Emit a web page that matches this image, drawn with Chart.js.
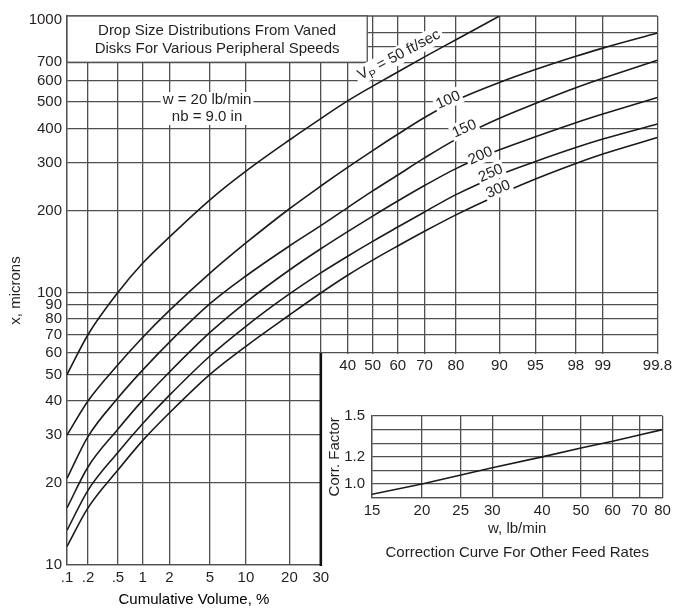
<!DOCTYPE html>
<html>
<head>
<meta charset="utf-8">
<script src="https://cdn.jsdelivr.net/npm/chart.js@4/dist/chart.umd.min.js"></script>
<style>
  html, body { margin: 0; padding: 0; background: #fff; }
  #wrap { position: relative; width: 676px; height: 609px; overflow: hidden; }
  #main { position: absolute; left: 0; top: 0; }
  #inset { position: absolute; left: 322px; top: 400px; }
</style>
</head>
<body>
<div id="wrap">
  <canvas id="main" width="676" height="609"></canvas>
  <canvas id="inset" width="354" height="165"></canvas>
</div>
<script>
// cumulative volume, % (probability axis)
const pct = [0.1, 0.2, 0.5, 1, 2, 5, 10, 20, 30, 40, 50, 60, 70, 80, 90, 95, 98, 99, 99.8];
const pctLabels = ['.1', '.2', '.5', '1', '2', '5', '10', '20', '30', '40', '50', '60', '70', '80', '90', '95', '98', '99', '99.8'];

// drop size x, microns, read at each pct value (one list per peripheral speed)
const vp50  = [50, 70, 100, 128, 160, 219, 279, 363, 435, 505, 572, 645, 733, 847, 1035];
const vp100 = [30, 40, 54.3, 68.4, 86, 117.8, 152, 203, 246, 288, 332, 381, 439, 507, 590, 658, 736, 789, 896];
const vp150 = [20.8, 29.6, 41.0, 51.9, 65.8, 91.0, 115, 148.2, 176, 205, 236, 270, 312, 365, 436, 494, 564, 611, 712];
const vp200 = [16.2, 22.9, 31.5, 40.2, 51.1, 71.4, 92.1, 121, 144.8, 167.4, 190.8, 216.7, 247, 285, 334, 373, 420, 452, 520];
const vp250 = [13.4, 18.8, 25.9, 33.0, 42.0, 58.5, 75.2, 98.8, 118.1, 135.9, 154.1, 173.9, 197.6, 228.7, 270.2, 302.5, 340.4, 365.7, 415.4];
const vp300 = [11.7, 16.2, 22.3, 28.6, 36.2, 50.1, 63.5, 82.7, 99.6, 115.7, 131.5, 148.2, 167.8, 192.8, 229, 260.8, 297.5, 322.3, 370.5];

const micronTicks  = [10, 20, 30, 40, 50, 60, 70, 80, 90, 100, 200, 300, 400, 500, 600, 700, 800, 900, 1000];
const micronLabels = ['10', '20', '30', '40', '50', '60', '70', '80', '90', '100', '200', '300', '400', '500', '600', '700', '', '', '1000'];

// inset: correction factor vs feed rate
const feedRate   = [15, 20, 30, 40, 50, 60, 70, 80];
const corrFactor = [0.925, 1.0, 1.12, 1.2, 1.265, 1.315, 1.36, 1.4];
const feedTicks  = [15, 20, 25, 30, 40, 50, 60, 70, 80];
const corrTicks  = [0.9, 1.0, 1.1, 1.2, 1.3, 1.4, 1.5];
const corrLabels = ['', '1.0', '', '1.2', '', '', '1.5'];

// curve annotations, in data units (pct, microns)
const curveTags = [['100', 77.6, 512], ['150', 82.2, 402], ['200', 86.1, 320], ['250', 88.3, 276], ['300', 89.7, 241]];

const textColor = '#231f20';
const gridColor = '#4f4f4f';
const gridWidth = 1.3;
const curveColor = '#1b1b1b';
const FONT = "'Liberation Sans', Arial, sans-serif";

Chart.defaults.font.family = FONT;
Chart.defaults.font.size = 15;
Chart.defaults.color = textColor;

// inverse normal cdf (Acklam)
function probit(p) {
  const a = [-39.69683028665376, 220.9460984245205, -275.9285104469687, 138.3577518672690, -30.66479806614716, 2.506628277459239];
  const b = [-54.47609879822406, 161.5858368580409, -155.6989798598866, 66.80131188771972, -13.28068155288572];
  const c = [-0.007784894002430293, -0.3223964580411365, -2.400758277161838, -2.549732539343734, 4.374664141464968, 2.938163982698783];
  const d = [0.007784695709041462, 0.3224671290700398, 2.445134137142996, 3.754408661907416];
  const pl = 0.02425;
  if (p < pl) {
    const q = Math.sqrt(-2 * Math.log(p));
    return (((((c[0]*q+c[1])*q+c[2])*q+c[3])*q+c[4])*q+c[5]) / ((((d[0]*q+d[1])*q+d[2])*q+d[3])*q+1);
  }
  if (p > 1 - pl) {
    const q = Math.sqrt(-2 * Math.log(1 - p));
    return -(((((c[0]*q+c[1])*q+c[2])*q+c[3])*q+c[4])*q+c[5]) / ((((d[0]*q+d[1])*q+d[2])*q+d[3])*q+1);
  }
  const q = p - 0.5, r = q * q;
  return (((((a[0]*r+a[1])*r+a[2])*r+a[3])*r+a[4])*r+a[5])*q / (((((b[0]*r+b[1])*r+b[2])*r+b[3])*r+b[4])*r+1);
}

// probability-paper axis
class ProbitScale extends Chart.Scale {
  determineDataLimits() {
    this.min = this.options.min;
    this.max = this.options.max;
  }
  buildTicks() { return []; }
  getLabelForValue(v) { return String(v); }
  configure() {
    super.configure();
    this._zMin = probit(this.min / 100);
    this._zMax = probit(this.max / 100);
  }
  getPixelForValue(v) {
    const z = probit(v / 100);
    return this.getPixelForDecimal((z - this._zMin) / (this._zMax - this._zMin));
  }
  getValueForPixel(px) {
    const z = this._zMin + this.getDecimalForPixel(px) * (this._zMax - this._zMin);
    let lo = 1e-6, hi = 1 - 1e-6;
    for (let k = 0; k < 60; k++) { const m = (lo + hi) / 2; if (probit(m) < z) lo = m; else hi = m; }
    return lo * 100;
  }
}
ProbitScale.id = 'probit';
ProbitScale.defaults = {};
Chart.register(ProbitScale);

function tag(ctx, text, cx, cy, ang) {
  ctx.save();
  ctx.translate(cx, cy);
  ctx.rotate(ang);
  const w = ctx.measureText(text).width;
  ctx.fillStyle = '#fff';
  ctx.fillRect(-w / 2 - 2, -8, w + 4, 17);
  ctx.fillStyle = textColor;
  ctx.fillText(text, 0, 1);
  ctx.restore();
}

const overlay = {
  id: 'overlay',
  beforeDatasetsDraw(chart) {
    const { ctx, chartArea: a, scales: { x, y } } = chart;
    const x30 = x.getPixelForValue(30), y60 = y.getPixelForValue(60);
    ctx.save();
    // the lower right corner of the grid is left empty
    ctx.fillStyle = '#fff';
    ctx.fillRect(x30 + 1, y60 + 1, a.right - x30 + 2, a.bottom - y60 + 3);
    ctx.strokeStyle = '#111';
    ctx.lineWidth = 2.6;
    ctx.beginPath(); ctx.moveTo(x30, y60); ctx.lineTo(x30, a.bottom + 1); ctx.stroke();
    ctx.strokeStyle = gridColor;
    ctx.lineWidth = gridWidth;
    ctx.beginPath(); ctx.moveTo(a.left, a.top); ctx.lineTo(a.right, a.top); ctx.stroke();

    // title box
    const bx1 = x.getPixelForValue(47.8), by1 = y.getPixelForValue(700);
    ctx.fillStyle = '#fff';
    ctx.fillRect(a.left, a.top, bx1 - a.left, by1 - a.top);
    ctx.strokeRect(a.left, a.top, bx1 - a.left, by1 - a.top);
    ctx.fillStyle = textColor;
    ctx.font = '15px ' + FONT;
    ctx.textAlign = 'center';
    ctx.textBaseline = 'middle';
    const cx = (a.left + bx1) / 2, h = by1 - a.top;
    ctx.fillText('Drop Size Distributions From Vaned', cx, a.top + h * 0.32);
    ctx.fillText('Disks For Various Peripheral Speeds', cx, a.top + h * 0.72);

    // operating conditions
    const wx = x.getPixelForValue(4.7), wy1 = y.getPixelForValue(509), wy2 = y.getPixelForValue(441);
    const l1 = 'w = 20 lb/min', l2 = 'nb = 9.0 in';
    const ww = Math.max(ctx.measureText(l1).width, ctx.measureText(l2).width) + 4;
    ctx.fillStyle = '#fff';
    ctx.fillRect(wx - ww / 2, wy1 - 8, ww, wy2 - wy1 + 16);
    ctx.fillStyle = textColor;
    ctx.fillText(l1, wx, wy1);
    ctx.fillText(l2, wx, wy2);
    ctx.restore();
  },
  afterDatasetsDraw(chart) {
    const { ctx, scales: { x, y } } = chart;
    ctx.save();
    ctx.font = '15px ' + FONT;
    ctx.textAlign = 'center';
    ctx.textBaseline = 'middle';
    const ang = -24 * Math.PI / 180;
    curveTags.forEach(([t, p, m]) => tag(ctx, t, x.getPixelForValue(p), y.getPixelForValue(m), ang));

    // V_P = 50 ft/sec
    ctx.save();
    ctx.translate(x.getPixelForValue(60.5), y.getPixelForValue(744));
    ctx.rotate(-28 * Math.PI / 180);
    ctx.textAlign = 'left';
    const big = '15px ' + FONT, small = '11px ' + FONT, rest = ' = 50 ft/sec';
    ctx.font = big;
    const wV = ctx.measureText('V').width, wR = ctx.measureText(rest).width;
    ctx.font = small;
    const wP = ctx.measureText('P').width;
    const w = wV + wP + wR, x0 = -w / 2;
    ctx.fillStyle = '#fff';
    ctx.fillRect(x0 - 3, -9, w + 6, 18);
    ctx.fillStyle = textColor;
    ctx.font = big; ctx.fillText('V', x0, 0);
    ctx.font = small; ctx.fillText('P', x0 + wV, 5);
    ctx.font = big; ctx.fillText(rest, x0 + wV + wP, 0);
    ctx.restore();

    // x axis title, centred under the .1 - 30 part
    ctx.textAlign = 'center';
    ctx.fillText('Cumulative Volume, %', (x.getPixelForValue(0.1) + x.getPixelForValue(30)) / 2, 600);
    ctx.restore();
  }
};

const curves = [vp50, vp100, vp150, vp200, vp250, vp300];

new Chart(document.getElementById('main'), {
  type: 'line',
  data: {
    datasets: curves.map(vals => ({
      data: vals.map((v, i) => ({ x: pct[i], y: v })),
      borderColor: curveColor,
      borderWidth: 1.6,
      pointRadius: 0,
      fill: false,
      cubicInterpolationMode: 'monotone'
    }))
  },
  options: {
    responsive: false,
    animation: false,
    devicePixelRatio: 1,
    events: [],
    layout: { padding: { left: 0, top: 16, right: 14, bottom: 0 } },
    plugins: { legend: { display: false }, tooltip: { enabled: false } },
    scales: {
      x: {
        type: 'probit', min: 0.1, max: 99.8, position: 'bottom',
        afterBuildTicks: s => { s.ticks = pct.map(v => ({ value: v })); },
        afterFit: s => { s.height = 44; },
        grid: { color: gridColor, lineWidth: gridWidth, drawTicks: false },
        border: { color: gridColor, width: gridWidth },
        ticks: { autoSkip: false, maxRotation: 0, padding: 4, callback: (v, i) => pct[i] <= 30 ? pctLabels[i] : '' }
      },
      x2: {
        type: 'probit', axis: 'x', min: 0.1, max: 99.8, position: { y: 60 },
        afterBuildTicks: s => { s.ticks = pct.map(v => ({ value: v })); },
        grid: { display: false, drawTicks: false },
        border: { display: false },
        ticks: { z: 1, autoSkip: false, maxRotation: 0, padding: 4, callback: (v, i) => pct[i] >= 40 ? pctLabels[i] : '' }
      },
      y: {
        type: 'logarithmic', min: 10, max: 1035,
        afterBuildTicks: s => { s.ticks = micronTicks.map(v => ({ value: v })); },
        afterFit: s => { s.width = 67; },
        grid: { color: c => (c.tick && c.tick.value === 1000) ? 'rgba(0,0,0,0)' : gridColor, lineWidth: gridWidth, drawTicks: false },
        border: { color: gridColor, width: gridWidth },
        ticks: { autoSkip: false, padding: 5, callback: (v, i) => micronLabels[i] },
        title: { display: true, text: 'x, microns', padding: { top: 7, bottom: 0 } }
      }
    }
  },
  plugins: [overlay]
});

new Chart(document.getElementById('inset'), {
  type: 'line',
  data: {
    datasets: [{
      data: feedRate.map((w, i) => ({ x: w, y: corrFactor[i] })),
      borderColor: curveColor,
      borderWidth: 1.6,
      pointRadius: 0,
      fill: false
    }]
  },
  options: {
    responsive: false,
    animation: false,
    devicePixelRatio: 1,
    events: [],
    layout: { padding: { left: 0, top: 14, right: 13.5, bottom: 0 } },
    plugins: {
      legend: { display: false },
      tooltip: { enabled: false },
      title: {
        display: true, position: 'bottom', fullSize: false,
        text: 'Correction Curve For Other Feed Rates',
        color: textColor, font: { size: 15, weight: 'normal' },
        padding: { top: 6, bottom: 3 }
      }
    },
    scales: {
      x: {
        type: 'logarithmic', min: 15, max: 80,
        afterBuildTicks: s => { s.ticks = feedTicks.map(v => ({ value: v })); },
        afterFit: s => { s.height = 40.3; },
        grid: { color: gridColor, lineWidth: gridWidth, drawTicks: false },
        border: { color: gridColor, width: gridWidth },
        ticks: { autoSkip: false, maxRotation: 0, padding: 4, callback: (v, i) => String(feedTicks[i]) },
        title: { display: true, text: 'w, lb/min', padding: { top: 0, bottom: 0 } }
      },
      y: {
        type: 'linear', min: 0.9, max: 1.5,
        afterBuildTicks: s => { s.ticks = corrTicks.map(v => ({ value: v })); },
        afterFit: s => { s.width = 50; },
        grid: { color: gridColor, lineWidth: gridWidth, drawTicks: false },
        border: { color: gridColor, width: gridWidth },
        ticks: { autoSkip: false, padding: 7, callback: (v, i) => corrLabels[i] },
        title: { display: true, text: 'Corr. Factor', padding: { top: 4, bottom: 0 } }
      }
    }
  }
});
</script>
</body>
</html>
